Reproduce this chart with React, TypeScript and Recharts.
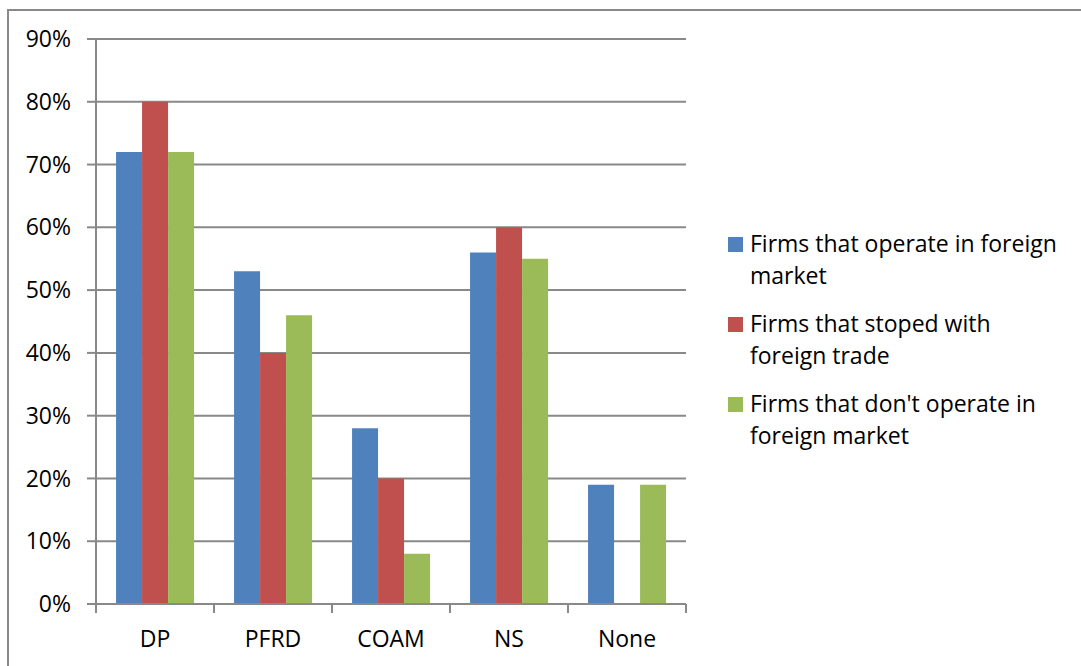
import { BarChart, Bar, XAxis, YAxis, CartesianGrid, Legend } from 'recharts'

const categories = ['DP', 'PFRD', 'COAM', 'NS', 'None']
const operating = [72, 53, 28, 56, 19]
const stopped = [80, 40, 20, 60, 0]
const notOperating = [72, 46, 8, 55, 19]
const yTicks = [0, 10, 20, 30, 40, 50, 60, 70, 80, 90]

const seriesInfo = [
  { key: 'operating', name: 'Firms that operate in foreign market', color: '#4F81BD' },
  { key: 'stopped', name: 'Firms that stoped with foreign trade', color: '#C0504D' },
  { key: 'notOperating', name: "Firms that don't operate in foreign market", color: '#9BBB59' },
]

const data = categories.map((cat, i) => ({
  cat,
  operating: operating[i],
  stopped: stopped[i],
  notOperating: notOperating[i],
}))

const W = 1081
const H = 666
const LEFT = 96
const RIGHT = 395
const AXIS_H = 62
const BAND = (W - LEFT - RIGHT) / categories.length
const GRID = '#898989'
const FONT = '"Open Sans", "Noto Sans", sans-serif'
const FS = 23

// category label centred in the band, tick marks on the band edges
function CategoryTick(props: any) {
  const { x, y, payload, index } = props
  const left = x - BAND / 2
  return (
    <g>
      <line x1={left} y1={y} x2={left} y2={y + 9} stroke={GRID} strokeWidth={2} />
      {index === categories.length - 1 && (
        <line x1={x + BAND / 2} y1={y} x2={x + BAND / 2} y2={y + 9} stroke={GRID} strokeWidth={2} />
      )}
      <text x={x} y={y + 43} textAnchor="middle" fill="#000" fontSize={FS} fontFamily={FONT}>
        {payload.value}
      </text>
    </g>
  )
}

function LegendBox() {
  return (
    <div style={{ fontFamily: FONT, fontSize: FS, lineHeight: '32px', color: '#000' }}>
      {seriesInfo.map((s) => (
        <div key={s.key} style={{ display: 'flex', alignItems: 'flex-start', marginBottom: 16 }}>
          <span
            style={{
              width: 15,
              height: 15,
              background: s.color,
              flex: '0 0 auto',
              marginTop: 10,
              marginRight: 7,
            }}
          />
          <span style={{ maxWidth: 312 }}>{s.name}</span>
        </div>
      ))}
    </div>
  )
}

export default function App() {
  return (
    <div style={{ position: 'fixed', left: 0, top: 0, width: W, height: H, background: '#fff', overflow: 'hidden' }}>
      <div
        style={{
          position: 'absolute',
          left: 7,
          top: 9,
          width: W + 20,
          height: H + 20,
          borderTop: `2px solid ${GRID}`,
          borderLeft: `2px solid ${GRID}`,
        }}
      />
      <BarChart
        width={W}
        height={H}
        data={data}
        margin={{ top: 39, right: RIGHT, bottom: 0, left: 0 }}
        barCategoryGap="17%"
        barGap={0}
      >
        <CartesianGrid vertical={false} stroke={GRID} strokeWidth={2} />
        <XAxis
          dataKey="cat"
          height={AXIS_H}
          axisLine={{ stroke: GRID, strokeWidth: 2 }}
          tickLine={false}
          tickSize={0}
          tickMargin={0}
          tick={<CategoryTick />}
          interval={0}
        />
        <YAxis
          width={LEFT}
          domain={[0, 90]}
          ticks={yTicks}
          tickFormatter={(v) => `${v}%`}
          axisLine={{ stroke: GRID, strokeWidth: 2 }}
          tickLine={{ stroke: GRID, strokeWidth: 2 }}
          tickSize={9}
          tickMargin={16}
          tick={{ fill: '#000', fontSize: FS, fontFamily: FONT }}
          interval={0}
        />
        <Legend
          layout="horizontal"
          verticalAlign="middle"
          align="center"
          content={() => <LegendBox />}
          wrapperStyle={{ left: 728, top: 227, width: 345, height: 'auto' }}
        />
        {seriesInfo.map((s) => (
          <Bar key={s.key} dataKey={s.key} name={s.name} fill={s.color} isAnimationActive={false} />
        ))}
      </BarChart>
    </div>
  )
}
